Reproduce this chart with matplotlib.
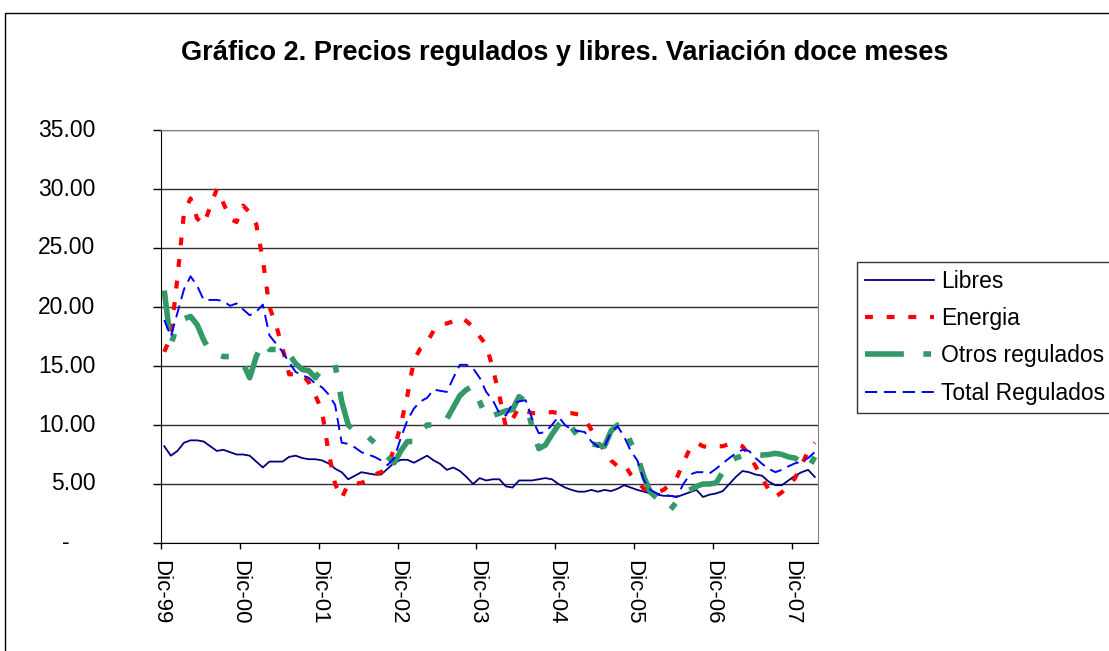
import numpy as np
import matplotlib
matplotlib.use('Agg')
import matplotlib.pyplot as plt
from matplotlib.patches import Rectangle

plt.rcParams['font.family'] = ['Liberation Sans', 'DejaVu Sans']

# monthly data, Dic-99 .. Mar-08
libres = [8.2, 7.4, 7.8, 8.5, 8.7, 8.7, 8.6, 8.2, 7.8, 7.9, 7.7, 7.5, 7.5, 7.4, 6.9, 6.4, 6.9, 6.9, 6.9, 7.3,
          7.4, 7.2, 7.1, 7.1, 7.0, 6.75, 6.3, 6.0, 5.4, 5.7, 6.0, 5.9, 5.8, 5.8, 6.3, 6.8, 7.05, 7.05, 6.8, 7.1,
          7.4, 7.0, 6.7, 6.2, 6.4, 6.1, 5.6, 5.0, 5.5, 5.3, 5.4, 5.4, 4.8, 4.7, 5.3, 5.3, 5.3, 5.4, 5.5, 5.4,
          5.0, 4.7, 4.5, 4.35, 4.35, 4.5, 4.35, 4.5, 4.4, 4.6, 4.9, 4.7, 4.5, 4.35, 4.2, 4.1, 4.0, 4.0, 3.9, 4.1,
          4.3, 4.5, 3.9, 4.1, 4.2, 4.4, 5.0, 5.6, 6.1, 6.0, 5.8, 5.7, 5.2, 4.9, 4.9, 5.3, 5.7, 6.0, 6.2, 5.6]
energia = [16.2, 17.5, 22.5, 28.0, 29.2, 27.5, 27.0, 28.5, 30.0, 28.8, 27.5, 27.2, 28.6, 28.0, 27.0, 24.0, 20.0, 18.5, 16.5, 14.3,
           14.3, 14.3, 13.6, 12.5, 11.2, 7.7, 5.0, 3.8, 5.0, 5.0, 5.1, 5.3, 5.8, 6.0, 6.5, 8.0, 10.0, 12.5, 15.5, 16.5,
           17.0, 18.0, 18.5, 18.6, 18.8, 19.1, 18.8, 18.3, 17.5, 16.8, 14.8, 12.5, 9.8, 10.5, 11.5, 11.2, 11.0, 11.0, 11.0, 11.1,
           11.0, 11.0, 11.0, 10.9, 10.5, 9.6, 8.5, 7.9, 7.0, 6.5, 6.7, 5.8, 5.2, 4.6, 4.4, 4.3, 4.5, 5.0, 5.5, 6.8,
           8.0, 8.5, 8.2, 8.1, 8.2, 8.2, 8.4, 8.4, 8.2, 7.5, 6.5, 5.5, 4.5, 3.9, 4.3, 4.8, 5.5, 6.6, 7.8, 8.5]
otros = [21.4, 16.8, 18.5, 19.0, 19.2, 18.5, 17.2, 16.2, 16.0, 15.8, 15.8, 15.5, 15.2, 14.0, 15.8, 17.0, 16.4, 16.4, 16.5, 16.0,
         15.2, 14.7, 14.6, 14.0, 14.8, 14.9, 15.1, 12.0, 10.0, 9.5, 9.3, 9.0, 8.5, 7.9, 7.3, 6.8, 7.8, 8.6, 8.6, 9.5,
         10.0, 10.0, 9.9, 10.5, 11.5, 12.5, 13.0, 13.3, 12.0, 10.6, 10.8, 11.0, 11.2, 11.3, 12.4, 12.0, 9.8, 8.0, 8.3, 9.2,
         10.0, 10.6, 9.8, 9.0, 8.6, 8.4, 8.3, 8.2, 9.5, 10.0, 10.0, 8.5, 7.4, 5.6, 4.3, 3.8, 3.3, 2.8, 3.5, 4.2,
         4.5, 4.8, 5.0, 5.0, 5.1, 6.0, 6.9, 7.2, 7.4, 7.5, 7.5, 7.45, 7.5, 7.6, 7.5, 7.3, 7.2, 6.8, 6.3, 7.3]
total = [18.9, 17.5, 19.5, 21.5, 22.6, 21.8, 20.6, 20.6, 20.6, 20.5, 20.1, 20.3, 19.8, 19.3, 19.6, 20.2, 17.6, 16.9, 16.2, 15.3,
         14.5, 14.2, 14.0, 13.5, 13.2, 12.6, 11.7, 8.5, 8.4, 8.1, 7.7, 7.5, 7.3, 7.0, 6.6, 7.2, 8.9, 10.4, 11.4, 12.0,
         12.3, 13.0, 12.9, 12.8, 14.0, 15.1, 15.1, 14.8, 14.0, 12.8, 12.1, 11.0, 10.8, 11.8, 12.0, 12.1, 10.5, 9.3, 9.4, 10.0,
         10.7, 10.0, 9.6, 9.5, 9.4, 8.6, 8.16, 8.16, 9.4, 9.9, 9.0, 7.8, 7.0, 5.3, 4.5, 4.2, 4.05, 4.0, 3.9, 5.0,
         5.8, 6.0, 6.0, 5.9, 6.3, 6.75, 7.2, 7.6, 7.9, 7.8, 7.2, 6.7, 6.3, 6.0, 6.2, 6.5, 6.75, 6.9, 7.2, 7.7]

tick_labels = ['Dic-99', 'Dic-00', 'Dic-01', 'Dic-02', 'Dic-03', 'Dic-04', 'Dic-05', 'Dic-06', 'Dic-07']
y_ticks = [0, 5, 10, 15, 20, 25, 30, 35]

W, H = 1109, 651
fig = plt.figure(figsize=(W / 100, H / 100), dpi=100)
ax = fig.add_axes([161 / W, 1 - 543 / H, 657 / W, 413 / H])

x = np.arange(len(libres)) + 0.5
ax.plot(x, libres, color='#000080', lw=1.3, label='Libres')
ax.plot(x, energia, color='#FF0000', lw=3, dashes=(1.9, 3.3), label='Energia')
ax.plot(x, otros, color='#339966', lw=4, dashes=(7, 3.5, 1.4, 3.5), label='Otros regulados')
ax.plot(x, total, color='#0000FF', lw=1.4, dashes=(6.3, 3.4), label='Total Regulados')

ax.set_xlim(0, len(libres))
ax.set_ylim(0, 35)
ax.set_xticks(range(0, 97, 12))
ax.set_xticklabels(tick_labels, rotation=-90, fontsize=16)
ax.tick_params(axis='x', direction='out', length=4.5, width=1, pad=8)
ax.set_yticks(y_ticks)
ax.set_yticklabels([])
ax.tick_params(axis='y', direction='out', length=5.5, width=1)
ax.yaxis.grid(True, color='#303030', lw=1)
ax.set_axisbelow(True)

# y labels in Excel accounting style
for v in y_ticks:
    if v == 0:
        ax.text(-0.145, v, '-', transform=ax.get_yaxis_transform(), ha='center', va='center', fontsize=16.5)
    else:
        ax.text(-0.1, v, f'{v:.2f}', transform=ax.get_yaxis_transform(), ha='right', va='center', fontsize=16.5)

for s in ['top', 'right']:
    ax.spines[s].set_color('#808080')
for s in ['left', 'bottom']:
    ax.spines[s].set_color('black')

fig.text(565 / W, 1 - 53 / H, 'Gráfico 2. Precios regulados y libres. Variación doce meses',
         ha='center', va='center', fontsize=19.5, weight='bold')

leg = ax.legend(loc='upper left', bbox_to_anchor=(857 / W, 1 - 262 / H), bbox_transform=fig.transFigure,
                fontsize=16.5, frameon=True, fancybox=False, edgecolor='black', borderaxespad=0,
                handlelength=3, handletextpad=0.3, borderpad=0.35, labelspacing=0.62)
leg.get_frame().set_linewidth(1)

fig.patches.append(Rectangle((5 / W, -0.1), 1.2, 1.1 - 13 / H, transform=fig.transFigure,
                             fill=False, ec='black', lw=1))

fig.savefig('out.png', dpi=100)
